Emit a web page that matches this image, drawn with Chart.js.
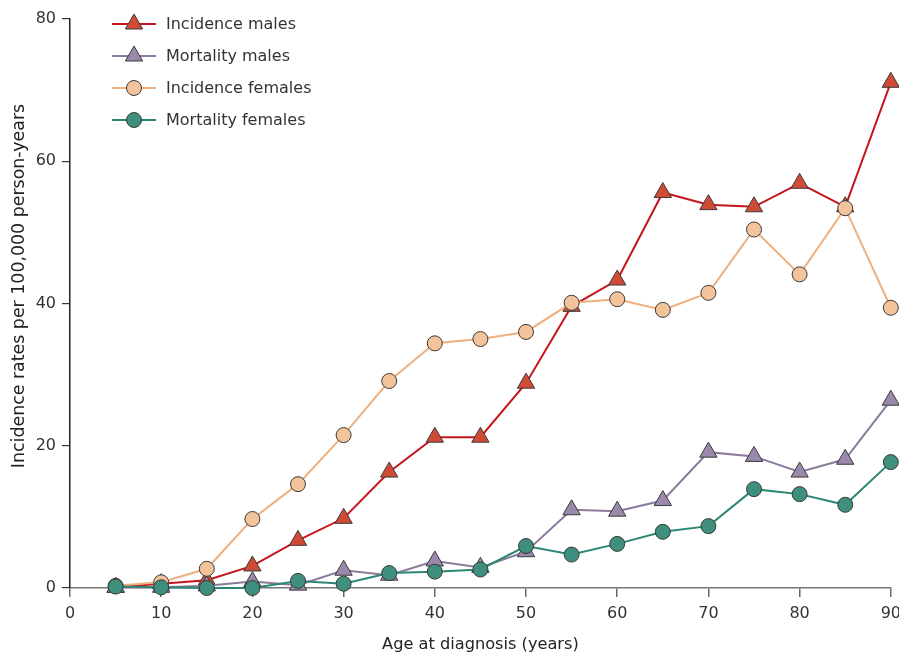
<!DOCTYPE html>
<html lang="en">
<head>
    <meta charset="UTF-8">
    <title>Incidence and mortality by age at diagnosis</title>
    <script src="https://cdn.jsdelivr.net/npm/chart.js"></script>
    <style>
        html, body { margin: 0; padding: 0; background: #fff; overflow: hidden; }
        /* a bit wider than the window so the last x label sits at the edge like the original */
        #wrap { width: 908px; height: 653px; }
    </style>
</head>
<body>
    <div id="wrap"><canvas id="chart"></canvas></div>
    <script>
        // Data
        const ages = [5, 10, 15, 20, 25, 30, 35, 40, 45, 50, 55, 60, 65, 70, 75, 80, 85, 90];
        const incidenceMales   = [0.1, 0.6, 1.1, 3.1, 6.7, 9.8, 16.3, 21.2, 21.2, 28.8, 39.6, 43.3, 55.6, 53.9, 53.6, 56.9, 53.6, 71.1];
        const mortalityMales   = [0.1, 0.1, 0.3, 0.9, 0.4, 2.5, 1.8, 3.8, 2.9, 5.1, 11.0, 10.8, 12.3, 19.1, 18.5, 16.3, 18.1, 26.4];
        const incidenceFemales = [0.3, 0.8, 2.7, 9.7, 14.6, 21.5, 29.1, 34.4, 35.0, 36.0, 40.1, 40.6, 39.1, 41.5, 50.4, 44.1, 53.4, 39.4];
        const mortalityFemales = [0.2, 0.1, 0.0, 0.0, 1.0, 0.6, 2.1, 2.3, 2.6, 5.9, 4.7, 6.2, 7.9, 8.7, 13.9, 13.2, 11.7, 17.7];
        const seriesNames = ['Incidence males', 'Mortality males', 'Incidence females', 'Mortality females'];
        const xTicks = [0, 10, 20, 30, 40, 50, 60, 70, 80, 90];
        const yTicks = [0, 20, 40, 60, 80];
        const yTitle = 'Incidence rates per 100,000 person-years';

        const toPoints = vals => vals.map((v, i) => ({ x: ages[i], y: v }));

        function series(label, vals, line, fill, shape, radius, order) {
            return {
                label: label,
                data: toPoints(vals),
                borderColor: line,
                borderWidth: 2,
                pointStyle: shape,
                pointRadius: radius,
                pointHoverRadius: radius,
                pointBackgroundColor: fill,
                pointBorderColor: '#3a3a3a',
                pointBorderWidth: 1,
                tension: 0,
                clip: false,
                order: order
            };
        }

        // legend in the top-left corner + rotated y title, like the original
        const cornerLegend = {
            id: 'cornerLegend',
            afterDraw(chart) {
                const ctx = chart.ctx;
                ctx.save();
                chart.data.datasets.forEach((ds, i) => {
                    const y = 24 + i * 32;
                    ctx.strokeStyle = ds.borderColor;
                    ctx.lineWidth = 2;
                    ctx.beginPath();
                    ctx.moveTo(112, y);
                    ctx.lineTo(156, y);
                    ctx.stroke();

                    const r = ds.pointRadius;
                    const cx = 134;
                    ctx.beginPath();
                    if (ds.pointStyle === 'triangle') {
                        ctx.moveTo(cx, y - r);
                        ctx.lineTo(cx + r * Math.sin(Math.PI / 3), y + r / 2);
                        ctx.lineTo(cx - r * Math.sin(Math.PI / 3), y + r / 2);
                        ctx.closePath();
                    } else {
                        ctx.arc(cx, y, r, 0, Math.PI * 2);
                    }
                    ctx.fillStyle = ds.pointBackgroundColor;
                    ctx.fill();
                    ctx.strokeStyle = ds.pointBorderColor;
                    ctx.lineWidth = 1;
                    ctx.stroke();

                    ctx.fillStyle = '#333';
                    ctx.font = '16px "DejaVu Sans"';
                    ctx.textBaseline = 'middle';
                    ctx.textAlign = 'left';
                    ctx.fillText(ds.label, 166, y + 1);
                });

                ctx.translate(19, 286);
                ctx.rotate(-Math.PI / 2);
                ctx.fillStyle = '#222';
                ctx.font = '17.4px "DejaVu Sans"';
                ctx.textAlign = 'center';
                ctx.textBaseline = 'middle';
                ctx.fillText(yTitle, 0, 0);
                ctx.restore();
            }
        };

        const ctx = document.getElementById('chart').getContext('2d');
        new Chart(ctx, {
            type: 'line',
            data: {
                datasets: [
                    series(seriesNames[0], incidenceMales, '#c4161c', '#cf4b35', 'triangle', 10, 3),
                    series(seriesNames[1], mortalityMales, '#8b7a9c', '#9a89ab', 'triangle', 10, 2),
                    series(seriesNames[2], incidenceFemales, '#eeb07f', '#f3c39c', 'circle', 7.5, 1),
                    series(seriesNames[3], mortalityFemales, '#2b8774', '#3f8f7e', 'circle', 7.5, 0)
                ]
            },
            options: {
                responsive: true,
                maintainAspectRatio: false,
                animation: false,
                layout: { autoPadding: false, padding: { top: 19, right: 0, left: 0, bottom: 0 } },
                plugins: {
                    legend: { display: false },
                    tooltip: { enabled: false }
                },
                scales: {
                    x: {
                        type: 'linear',
                        min: 0,
                        max: 90,
                        afterFit: s => { s.height = 65; },
                        afterBuildTicks: s => { s.ticks = xTicks.map(v => ({ value: v })); },
                        grid: { drawOnChartArea: false, drawTicks: true, tickLength: 9, color: '#666', lineWidth: 1.5 },
                        border: { color: '#777', width: 1.5 },
                        ticks: { color: '#333', font: { family: 'DejaVu Sans', size: 16 }, padding: 7, maxRotation: 0 },
                        title: {
                            display: true,
                            text: 'Age at diagnosis (years)',
                            color: '#222',
                            font: { family: 'DejaVu Sans', size: 16.2 },
                            padding: { top: 4, bottom: -2 }
                        }
                    },
                    y: {
                        min: 0,
                        max: 80,
                        afterFit: s => { s.width = 70; },
                        afterBuildTicks: s => { s.ticks = yTicks.map(v => ({ value: v })); },
                        grid: { drawOnChartArea: false, drawTicks: true, tickLength: 8, color: '#333', lineWidth: 1.2 },
                        border: { color: '#222', width: 1.5 },
                        ticks: { color: '#333', font: { family: 'DejaVu Sans', size: 16 }, padding: 6 }
                    }
                }
            },
            plugins: [cornerLegend]
        });
    </script>
</body>
</html>
